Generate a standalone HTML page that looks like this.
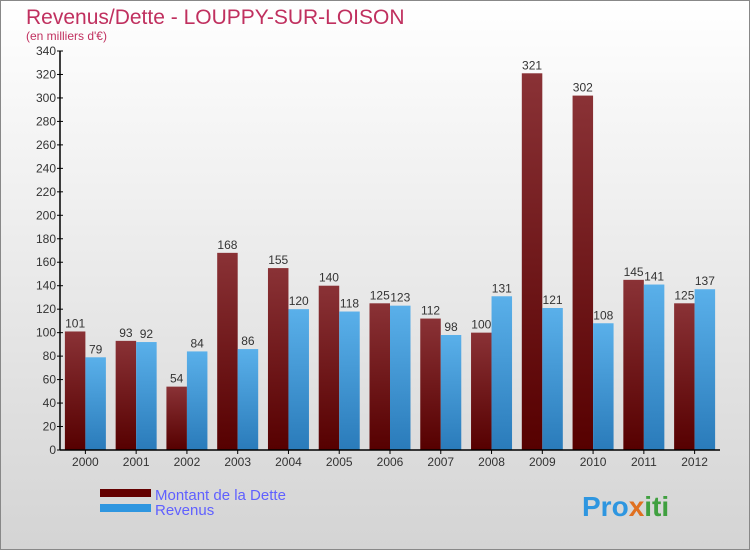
<!DOCTYPE html>
<html><head><meta charset="utf-8"><style>
body{margin:0;width:750px;height:550px;overflow:hidden;font-family:"Liberation Sans",sans-serif}
svg text{font-family:"Liberation Sans",sans-serif}
</style></head><body>
<svg width="750" height="550">
<defs>
<linearGradient id="bg" x1="0" y1="0" x2="0" y2="1"><stop offset="0" stop-color="#ffffff"/><stop offset="1" stop-color="#d4d4d4"/></linearGradient>
<linearGradient id="gd" x1="0" y1="0" x2="0" y2="1"><stop offset="0" stop-color="#8a3236"/><stop offset="1" stop-color="#560000"/></linearGradient>
<linearGradient id="gr" x1="0" y1="0" x2="0" y2="1"><stop offset="0" stop-color="#5ab0ea"/><stop offset="1" stop-color="#2a7bba"/></linearGradient>
</defs>
<rect x="0.5" y="0.5" width="749" height="549" fill="url(#bg)" stroke="#888"/>
<text x="26" y="24" font-size="21" fill="#c0305f">Revenus/Dette - LOUPPY-SUR-LOISON</text>
<text x="26" y="40" font-size="12" fill="#c0305f">(en milliers d'€)</text>
<g id="plot"></g>
<rect x="100" y="489" width="51" height="8" fill="#640000"/>
<text x="155" y="500" font-size="15" fill="#6060ff">Montant de la Dette</text>
<rect x="100" y="504" width="51" height="8" fill="#2e96e0"/>
<text x="155" y="515" font-size="15" fill="#6060ff">Revenus</text>
<text x="582" y="516" font-size="28" font-weight="bold" fill="#2e96e0">Pro<tspan fill="#e07020">x</tspan><tspan fill="#40a040">iti</tspan></text>
</svg>
<script>
const categories=["2000","2001","2002","2003","2004","2005","2006","2007","2008","2009","2010","2011","2012"];
const dette=[101,93,54,168,155,140,125,112,100,321,302,145,125];
const revenus=[79,92,84,86,120,118,123,98,131,121,108,141,137];
const yTicks=[0,20,40,60,80,100,120,140,160,180,200,220,240,260,280,300,320,340];
const NS="http://www.w3.org/2000/svg";
const g=document.getElementById('plot');
const x0=60,x1=720,y0=450,y1=51,yMax=340;
const step=(x1-x0)/categories.length;
const y=v=>y0-(v/yMax)*(y0-y1);
const cx=i=>x0+step*(i+0.5);
function mk(t,a,txt){const e=document.createElementNS(NS,t);for(const k in a)e.setAttribute(k,a[k]);if(txt!==undefined)e.textContent=txt;g.appendChild(e);return e;}
yTicks.forEach(v=>{
const t=mk('line',{x1:x0-3,x2:x0+3,y1:y(v),y2:y(v),stroke:'#000'});


const l=mk('text',{x:x0-4,y:y(v)+4,'font-size':12,fill:'#333','text-anchor':'end'},String(v));


});
categories.forEach((c,i)=>{
const bw=20.5;
const d=mk('rect',{x:cx(i)-bw,y:y(dette[i]),width:bw,height:y0-y(dette[i]),fill:'url(#gd)'});


const r=mk('rect',{x:cx(i),y:y(revenus[i]),width:bw,height:y0-y(revenus[i]),fill:'url(#gr)'});


const dl=mk('text',{x:cx(i)-bw/2,y:y(dette[i])-4,'font-size':12,fill:'#333','text-anchor':'middle'},String(dette[i]));


const rl=mk('text',{x:cx(i)+bw/2,y:y(revenus[i])-4,'font-size':12,fill:'#333','text-anchor':'middle'},String(revenus[i]));


const xt=mk('line',{x1:cx(i),x2:cx(i),y1:y0,y2:y0+4,stroke:'#000'});


const xl=mk('text',{x:cx(i),y:y0+16,'font-size':12,fill:'#333','text-anchor':'middle'},c);


});
const ya=mk('line',{x1:x0,x2:x0,y1:y1,y2:y0,stroke:'#000','stroke-width':1.5});


const xa=mk('line',{x1:x0,x2:x1,y1:y0,y2:y0,stroke:'#000','stroke-width':1.5});


</script>
</body></html>
